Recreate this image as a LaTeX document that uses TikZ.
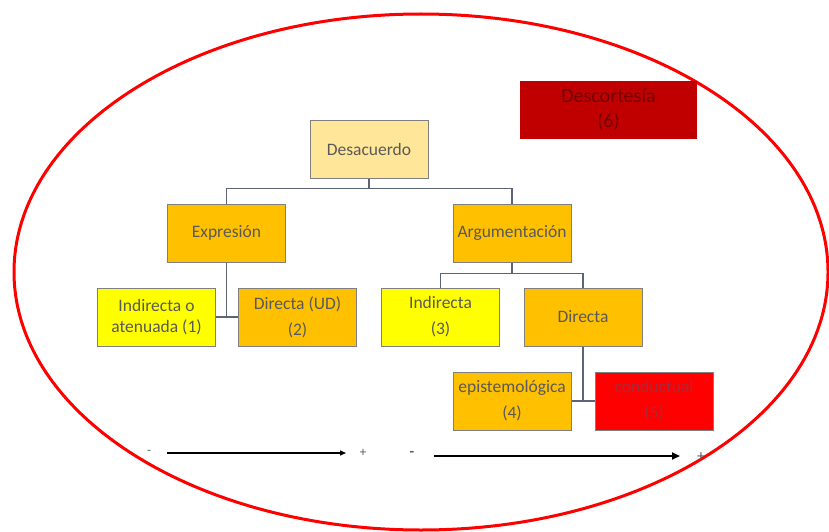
\documentclass[tikz,border=0pt]{standalone}
\usepackage{fontspec}
\setmainfont{Carlito}
\usetikzlibrary{arrows.meta,calc}
\definecolor{boxtext}{HTML}{595959}
\definecolor{orangebox}{HTML}{FFC000}
\definecolor{palebox}{HTML}{FFE699}
\definecolor{yellowbox}{HTML}{FFFF00}
\definecolor{darkredbox}{HTML}{C00000}
\definecolor{redbox}{HTML}{FF0000}
\definecolor{conncol}{HTML}{5B6478}
\definecolor{borderc}{HTML}{7F7F7F}
\begin{document}
\begin{tikzpicture}[x=1pt,y=-1pt,
  box/.style={draw=borderc, line width=1pt, minimum width=118pt, minimum height=58pt,
    inner sep=2pt, align=center, text=boxtext, font=\fontsize{17.5}{26}\selectfont},
  conn/.style={draw=conncol, line width=1.3pt},
  sign/.style={inner sep=0pt, text=boxtext, font=\fontsize{13}{13}\selectfont}]
\useasboundingbox (0,0) rectangle (829,532);
\draw[red, line width=3pt] (421,272) ellipse [x radius=407, y radius=258];

\node[box, fill=palebox] (des) at (369,149.5) {Desacuerdo};
\node[box, fill=darkredbox, draw=none, minimum width=177pt, text={rgb,255:red,110;green,0;blue,0}, font=\fontsize{20}{25}\selectfont] (desc) at (608.5,110) {Descortesía\\(6)};
\node[box, fill=orangebox] (exp) at (226.5,233) {Expresión};
\node[box, fill=orangebox] (arg) at (512,233) {Argumentación};
\node[box, fill=yellowbox, font=\fontsize{17.5}{21}\selectfont] (ind1) at (156.5,317) {Indirecta o\\atenuada (1)};
\node[box, fill=orangebox] (dir2) at (297.5,317) {Directa (UD)\\(2)};
\node[box, fill=yellowbox] (ind3) at (440.5,317) {Indirecta\\(3)};
\node[box, fill=orangebox] (dir) at (583,317) {Directa};
\node[box, fill=orangebox] (epi) at (512,401) {epistemológica\\(4)};
\node[box, fill=redbox, text={rgb,255:red,170;green,40;blue,60}] (cond) at (654,401) {conductual\\(5)};

% connectors
\draw[conn] (exp.north) -- ++(0,-15) coordinate (h1) -| (arg.north);
\draw[conn] (des.south) -- (des.south |- h1);
\draw[conn] (exp.south) -- (exp.south |- ind1.east);
\draw[conn] (ind1.east) -- (dir2.west);
\draw[conn] (ind3.north) -- ++(0,-14) coordinate (h2) -| (dir.north);
\draw[conn] (arg.south) -- (arg.south |- h2);
\draw[conn] (dir.south) -- (dir.south |- epi.east);
\draw[conn] (epi.east) -- (cond.west);

% scales
\node[sign] (m1) at (149,452) {-};
\node[sign] (p1) at (363,453) {+};
\coordinate (a1s) at (167,453);
\coordinate (a1e) at (346,453);
\draw[line width=1.3pt, -{Triangle[length=6pt,width=5pt]}] (a1s) -- (a1e);
\node[sign, font=\fontsize{15}{15}\selectfont\bfseries] (m2) at (412,454) {-};
\node[sign, font=\fontsize{16}{16}\selectfont] (p2) at (701,457) {+};
\coordinate (a2s) at (434,456);
\coordinate (a2e) at (680,456);
\draw[line width=2.2pt, -{Triangle[length=8pt,width=7pt]}] (a2s) -- (a2e);
\end{tikzpicture}
\end{document}
